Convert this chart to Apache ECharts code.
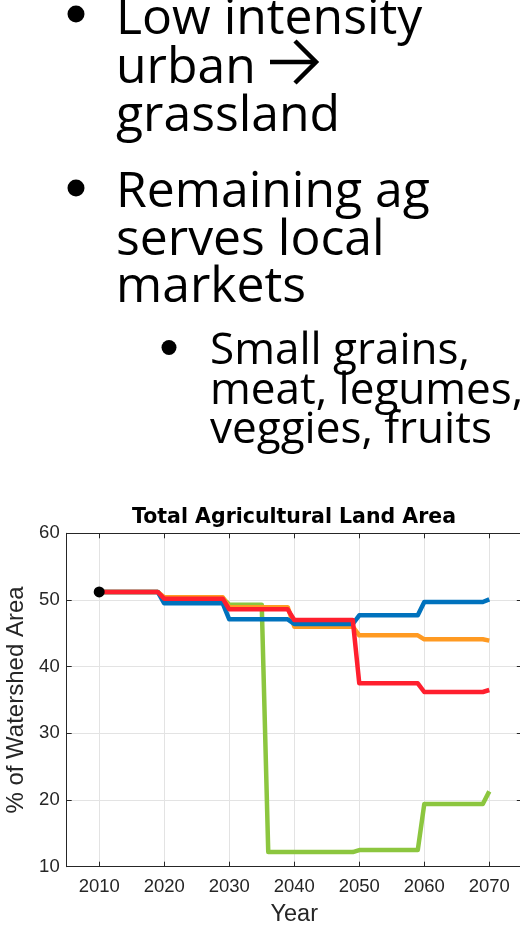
<!DOCTYPE html>
<html>
<head>
<meta charset="utf-8">
<title>Total Agricultural Land Area</title>
<script src="https://cdn.jsdelivr.net/npm/echarts@6/dist/echarts.min.js"></script>
<style>
  html, body { margin: 0; padding: 0; background: #fff; }
  #chart { width: 520px; height: 926px; }
</style>
</head>
<body>
<div id="chart"></div>
<script>
// slide text next to the chart
const mainBullets = [
  ['Low intensity', 'urban', 'grassland'],
  ['Remaining ag', 'serves local', 'markets']
]
const subBullets = [
  ['Small grains,', 'meat, legumes,', 'veggies, fruits']
]

// chart data, one value per year
const years = [
  2010, 2011, 2012, 2013, 2014, 2015, 2016, 2017, 2018, 2019,
  2020, 2021, 2022, 2023, 2024, 2025, 2026, 2027, 2028, 2029,
  2030, 2031, 2032, 2033, 2034, 2035, 2036, 2037, 2038, 2039,
  2040, 2041, 2042, 2043, 2044, 2045, 2046, 2047, 2048, 2049,
  2050, 2051, 2052, 2053, 2054, 2055, 2056, 2057, 2058, 2059,
  2060, 2061, 2062, 2063, 2064, 2065, 2066, 2067, 2068, 2069,
  2070
]
const blue = [
  51.2, 51.2, 51.2, 51.2, 51.2, 51.2, 51.2, 51.2, 51.2, 51.2,
  49.5, 49.5, 49.5, 49.5, 49.5, 49.5, 49.5, 49.5, 49.5, 49.5,
  47.1, 47.1, 47.1, 47.1, 47.1, 47.1, 47.1, 47.1, 47.1, 47.1,
  46.4, 46.4, 46.4, 46.4, 46.4, 46.4, 46.4, 46.4, 46.4, 46.4,
  47.7, 47.7, 47.7, 47.7, 47.7, 47.7, 47.7, 47.7, 47.7, 47.7,
  49.7, 49.7, 49.7, 49.7, 49.7, 49.7, 49.7, 49.7, 49.7, 49.7,
  50.1
]
const orange = [
  51.2, 51.2, 51.2, 51.2, 51.2, 51.2, 51.2, 51.2, 51.2, 51.2,
  50.4, 50.4, 50.4, 50.4, 50.4, 50.4, 50.4, 50.4, 50.4, 50.4,
  48.9, 48.9, 48.9, 48.9, 48.9, 48.9, 48.9, 48.9, 48.9, 48.9,
  46.0, 46.0, 46.0, 46.0, 46.0, 46.0, 46.0, 46.0, 46.0, 46.0,
  44.7, 44.7, 44.7, 44.7, 44.7, 44.7, 44.7, 44.7, 44.7, 44.7,
  44.1, 44.1, 44.1, 44.1, 44.1, 44.1, 44.1, 44.1, 44.1, 44.1,
  43.9
]
const red = [
  51.2, 51.2, 51.2, 51.2, 51.2, 51.2, 51.2, 51.2, 51.2, 51.2,
  50.2, 50.2, 50.2, 50.2, 50.2, 50.2, 50.2, 50.2, 50.2, 50.2,
  48.6, 48.6, 48.6, 48.6, 48.6, 48.6, 48.6, 48.6, 48.6, 48.6,
  47.0, 47.0, 47.0, 47.0, 47.0, 47.0, 47.0, 47.0, 47.0, 47.0,
  37.5, 37.5, 37.5, 37.5, 37.5, 37.5, 37.5, 37.5, 37.5, 37.5,
  36.2, 36.2, 36.2, 36.2, 36.2, 36.2, 36.2, 36.2, 36.2, 36.2,
  36.5
]
const green = [
  51.2, 51.2, 51.2, 51.2, 51.2, 51.2, 51.2, 51.2, 51.2, 51.2,
  50.3, 50.3, 50.3, 50.3, 50.3, 50.3, 50.3, 50.3, 50.3, 50.3,
  49.3, 49.3, 49.3, 49.3, 49.3, 49.3, 12.2, 12.2, 12.2, 12.2,
  12.2, 12.2, 12.2, 12.2, 12.2, 12.2, 12.2, 12.2, 12.2, 12.2,
  12.5, 12.5, 12.5, 12.5, 12.5, 12.5, 12.5, 12.5, 12.5, 12.5,
  19.4, 19.4, 19.4, 19.4, 19.4, 19.4, 19.4, 19.4, 19.4, 19.4,
  21.3
]
const startPoint = [2010, 51.2]

const axisColor = '#262626'
const slideFont = '"Open Sans"'

function measure(text, font, baseline) {
  const ctx = document.createElement('canvas').getContext('2d')
  ctx.font = font
  ctx.textBaseline = baseline || 'alphabetic'
  return ctx.measureText(text)
}

// font size that makes a line of text a given width
function fitSize(text, family, width) {
  return 100 * width / measure(text, '100px ' + family).width
}

function textBlock(lines, x, firstBaseline, step, size) {
  // distance from the 'middle' baseline zrender uses down to the alphabetic one
  const shift = measure('H', size + 'px ' + slideFont, 'middle').actualBoundingBoxDescent
  return lines.map((t, i) => ({
    type: 'text',
    silent: true,
    style: {
      text: t,
      x: x,
      y: firstBaseline + i * step - shift,
      font: size + 'px ' + slideFont,
      fill: '#000',
      align: 'left',
      verticalAlign: 'middle'
    }
  }))
}

// the open chevron arrow after "urban"
function arrow(left, mid, len, half) {
  const style = { stroke: '#000', lineWidth: 4.5, fill: null, lineJoin: 'miter', lineCap: 'butt' }
  return [
    { type: 'line', silent: true, shape: { x1: left, y1: mid, x2: left + len - 3, y2: mid }, style: style },
    { type: 'polyline', silent: true,
      shape: { points: [[left + len - half, mid - half], [left + len, mid], [left + len - half, mid + half]] },
      style: style }
  ]
}

function bullet(cx, cy, r) {
  return { type: 'circle', silent: true, shape: { cx: cx, cy: cy, r: r }, style: { fill: '#000' } }
}

const mainSize = fitSize(mainBullets[1][0], slideFont, 314)
const subSize = fitSize(subBullets[0][2], slideFont, 282)

let graphics = []
graphics.push(bullet(76, 14, 8.5))
graphics = graphics.concat(textBlock(mainBullets[0], 116, 34, 48.5, mainSize))
graphics = graphics.concat(arrow(270, 62, 46, 21))
graphics.push(bullet(76, 188, 8.5))
graphics = graphics.concat(textBlock(mainBullets[1], 116, 207, 47.5, mainSize))
graphics.push(bullet(169, 347.5, 7.5))
graphics = graphics.concat(textBlock(subBullets[0], 210, 364, 39.5, subSize))

function lineSeries(name, values, color) {
  return {
    name: name,
    type: 'line',
    data: years.map((y, i) => [y, values[i]]),
    showSymbol: false,
    symbol: 'none',
    lineStyle: { color: color, width: 4.5, join: 'round', cap: 'butt' },
    itemStyle: { color: color },
    animation: false
  }
}

const chart = echarts.init(document.getElementById('chart'))

chart.setOption({
  backgroundColor: '#fff',
  animation: false,
  title: {
    text: 'Total Agricultural Land Area',
    left: 294,
    top: 507,
    padding: 0,
    textAlign: 'center',
    textStyle: {
      fontFamily: 'DejaVu Sans',
      fontWeight: 'bold',
      fontSize: 20.5,
      color: '#000'
    }
  },
  graphic: graphics,
  grid: {
    left: 66.7,
    top: 533.3,
    right: -1.8,
    bottom: 59.3,
    outerBoundsMode: 'none'
  },
  xAxis: [
    {
      type: 'value',
      min: 2005,
      max: 2075,
      splitNumber: 7,
      name: 'Year',
      nameLocation: 'middle',
      nameGap: 36,
      nameTextStyle: { fontFamily: 'Liberation Sans', fontSize: 23.5, color: axisColor },
      axisLine: { onZero: false, lineStyle: { color: axisColor, width: 1 } },
      axisTick: { inside: true, length: 5, lineStyle: { color: axisColor } },
      axisLabel: {
        showMinLabel: false,
        showMaxLabel: false,
        margin: 11,
        formatter: v => String(v),
        fontFamily: 'Liberation Sans',
        fontSize: 18.5,
        color: axisColor
      },
      splitLine: { show: true, lineStyle: { color: '#e3e3e3', width: 1 } }
    },
    {
      type: 'value',
      position: 'top',
      min: 2005,
      max: 2075,
      splitNumber: 7,
      axisLine: { onZero: false, lineStyle: { color: axisColor, width: 1 } },
      axisTick: { inside: true, length: 5, lineStyle: { color: axisColor } },
      axisLabel: { show: false },
      splitLine: { show: false }
    }
  ],
  yAxis: [
    {
      type: 'value',
      min: 10,
      max: 60,
      interval: 10,
      name: '% of Watershed Area',
      nameLocation: 'middle',
      nameGap: 33,
      nameTextStyle: { fontFamily: 'Liberation Sans', fontSize: 24, color: axisColor },
      axisLine: { show: true, onZero: false, lineStyle: { color: axisColor, width: 1 } },
      axisTick: { show: true, inside: true, length: 5, lineStyle: { color: axisColor } },
      axisLabel: { margin: 7, fontFamily: 'Liberation Sans', fontSize: 18.5, color: axisColor },
      splitLine: { show: true, lineStyle: { color: '#e3e3e3', width: 1 } }
    },
    {
      type: 'value',
      position: 'right',
      min: 10,
      max: 60,
      interval: 10,
      axisLine: { show: true, onZero: false, lineStyle: { color: axisColor, width: 1 } },
      axisTick: { show: true, inside: true, length: 5, lineStyle: { color: axisColor } },
      axisLabel: { show: false },
      splitLine: { show: false }
    }
  ],
  series: [
    lineSeries('Scenario 4', green, '#8CC63F'),
    lineSeries('Scenario 2', orange, '#FF9A22'),
    lineSeries('Scenario 1', blue, '#0072BD'),
    lineSeries('Scenario 3', red, '#FF1F2E'),
    {
      name: '2010',
      type: 'scatter',
      data: [startPoint],
      symbol: 'circle',
      symbolSize: 11,
      itemStyle: { color: '#000', opacity: 1 },
      z: 5,
      animation: false
    }
  ]
})
</script>
</body>
</html>
